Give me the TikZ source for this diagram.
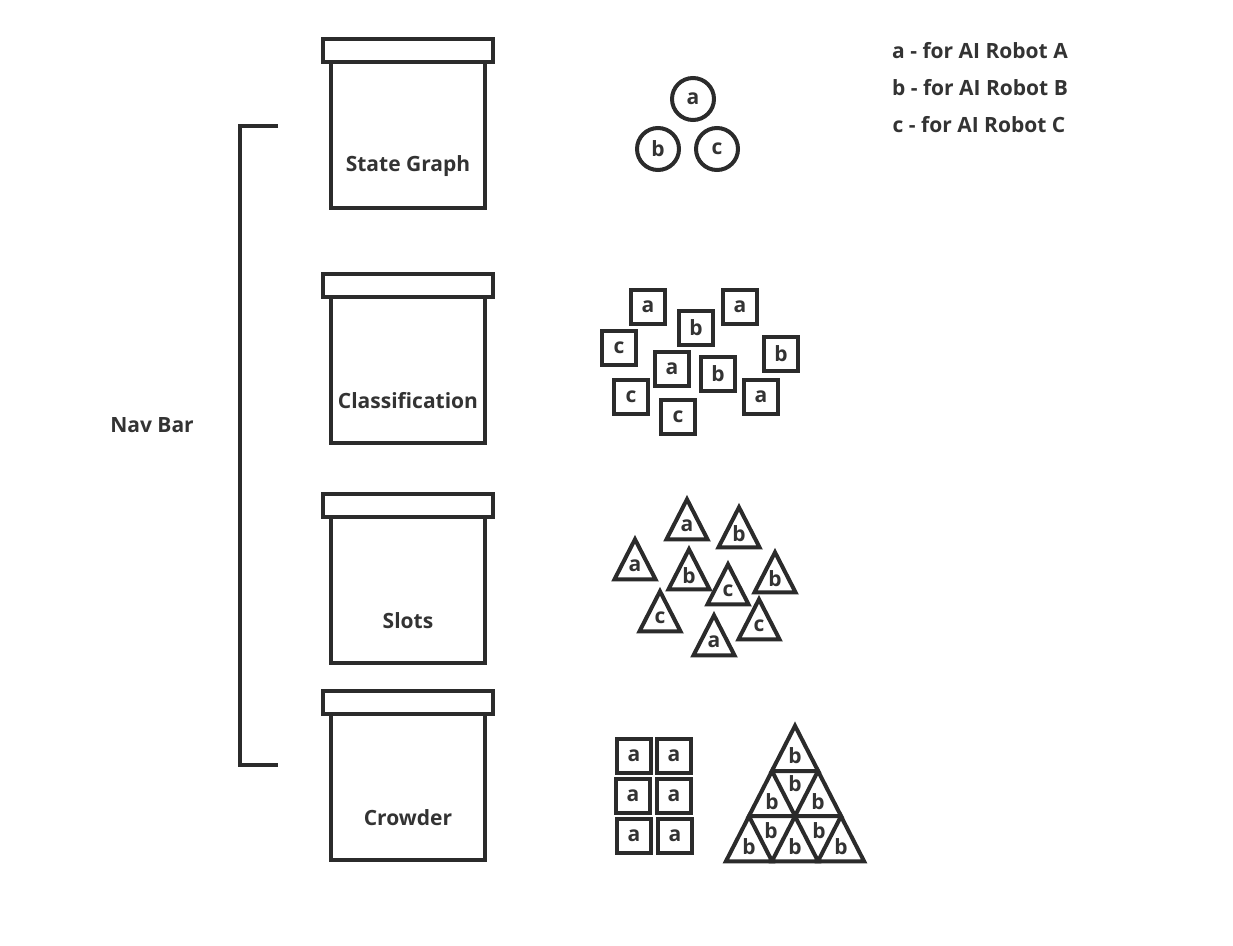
\documentclass[tikz,border=0pt]{standalone}
\usepackage{fontspec}
\setmainfont{Open Sans}
\usetikzlibrary{positioning}
\definecolor{ink}{HTML}{2B2B2B}
\definecolor{textgray}{HTML}{333333}
\tikzset{
   outline/.style = {draw=ink, line width=4pt, fill=white},
   robotletter/.style = {text=textgray, font=\fontsize{21}{25}\selectfont\bfseries, inner sep=0pt},
   robotcircle/.style = {outline, circle, minimum size=42pt, inner sep=0pt, robotletter},
   robotsquare/.style = {outline, rectangle, minimum size=34pt, inner sep=0pt, robotletter},
   screenbody/.style = {outline, rectangle, minimum width=154pt, minimum height=146pt, inner sep=0pt, outer sep=0pt},
   screenlid/.style = {outline, rectangle, minimum width=170pt, minimum height=23pt, inner sep=0pt, outer sep=0pt},
   screentext/.style = {robotletter},
   bracket/.style = {draw=ink, line width=3.4pt}
}
% one screen: body, lid on top and its caption
\newcommand{\screenbox}[3]{
   \node[screenbody] (#1) at (408,#2) {};
   \node[screenlid, above=0pt of #1] (#1lid) {};
   \node[screentext] (#1text) at ([yshift=-31pt]#1.center) {#3};
}
% triangle with its letter at the centroid
\newcommand{\robottri}[4][1]{
   \draw[outline, shift={(#3)}] (0,-26.7*#1) -- (20.5*#1,13.3*#1) -- (-20.5*#1,13.3*#1) -- cycle;
   \node[robotletter] (#2) at (#3) {#4};
}

\begin{document}
\begin{tikzpicture}[x=1pt, y=-1pt, line join=miter]
		\useasboundingbox (0,0) rectangle (1233,945);

		% Screens
		\screenbox{sg}{135}{State Graph}
		\screenbox{cl}{370}{Classification}
		\screenbox{sl}{590}{Slots}
		\screenbox{cr}{787}{Crowder}

		% Nav bar
		\coordinate (navtop) at (278,126);
		\coordinate (navmid) at (240,445);
		\coordinate (navbot) at (278,765);
		\draw[bracket] (navtop) -| (navmid) |- (navbot);
		\node[robotletter] (navtext) at (152,425) {Nav Bar};

		% Legend
		\node[robotletter] (leg a) at (980,51) {a - for AI Robot A};
		\node[robotletter] (leg b) at (980,88) {b - for AI Robot B};
		\node[robotletter] (leg c) at (979,125) {c - for AI Robot C};

		% State graph robots
		\node[robotcircle] (sg a) at (693,99) {a};
		\node[robotcircle] (sg b) at (658,149) {b};
		\node[robotcircle] (sg c) at (717,149) {c};

		% Classification robots
		\node[robotsquare] (cl a1) at (648,307) {a};
		\node[robotsquare] (cl b1) at (696,328) {b};
		\node[robotsquare] (cl a2) at (740,307) {a};
		\node[robotsquare] (cl c1) at (619,348) {c};
		\node[robotsquare] (cl b2) at (781,354) {b};
		\node[robotsquare] (cl a3) at (672,369) {a};
		\node[robotsquare] (cl b3) at (718,374) {b};
		\node[robotsquare] (cl c2) at (631,397) {c};
		\node[robotsquare] (cl a4) at (761,397) {a};
		\node[robotsquare] (cl c3) at (678,417) {c};

		% Slot robots
		\robottri{sl a1}{687,526}{a}
		\robottri{sl b1}{739,534}{b}
		\robottri{sl a2}{635,566}{a}
		\robottri{sl b2}{689,576}{b}
		\robottri{sl b3}{775,579}{b}
		\robottri{sl c1}{728,591}{c}
		\robottri{sl c2}{660,618}{c}
		\robottri{sl c3}{759,626}{c}
		\robottri{sl a3}{714,642}{a}

		% Crowder robots
		\node[robotsquare] (cr a1) at (634,756) {a};
		\node[robotsquare] (cr a2) at (674,756) {a};
		\node[robotsquare] (cr a3) at (633,796) {a};
		\node[robotsquare] (cr a4) at (674,796) {a};
		\node[robotsquare] (cr a5) at (634,836) {a};
		\node[robotsquare] (cr a6) at (675,836) {a};

		\robottri[1.13]{cr b1}{795,756}{b}
		\robottri[1.13]{cr b2}{772,801.2}{b}
		\robottri[1.13]{cr b3}{818,801.2}{b}
		\robottri[1.13]{cr b4}{749,846.4}{b}
		\robottri[1.13]{cr b5}{795,846.4}{b}
		\robottri[1.13]{cr b6}{841,846.4}{b}
		\node[robotletter] (cr b7) at (795,784) {b};
		\node[robotletter] (cr b8) at (771,831) {b};
		\node[robotletter] (cr b9) at (819,831) {b};
	\end{tikzpicture}
\end{document}
